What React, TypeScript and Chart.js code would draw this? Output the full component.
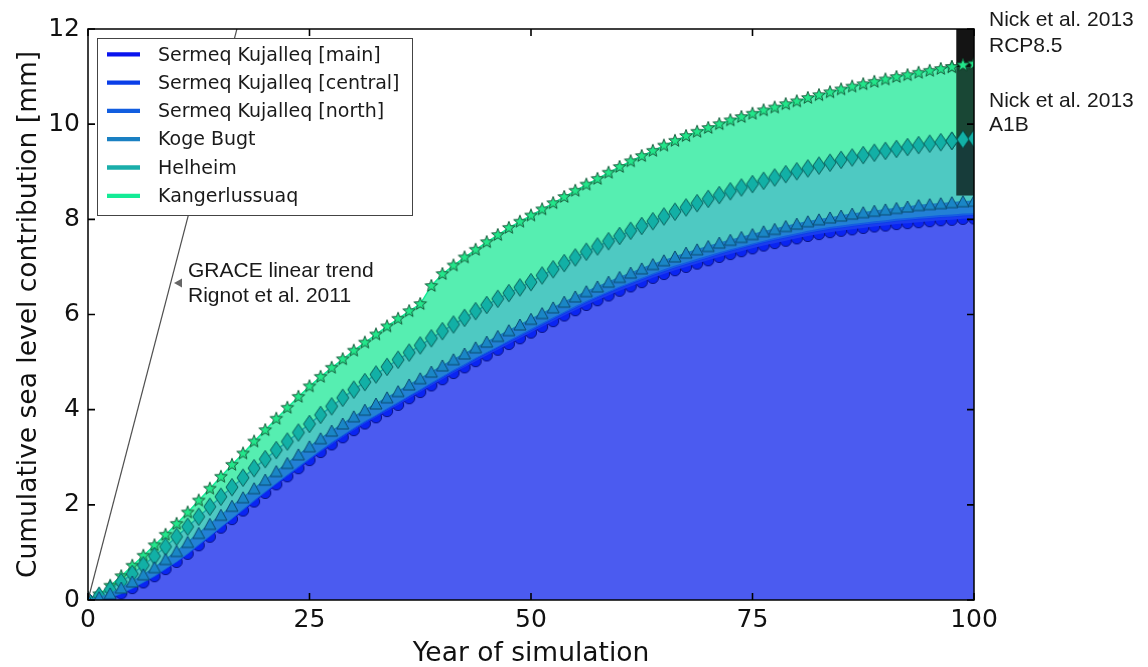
import React, { useEffect, useRef } from "react";
import { Chart, registerables } from "chart.js";

Chart.register(...registerables);

// ---------- data ----------
const YEARS = [0,1.25,2.5,3.75,5,6.25,7.5,8.75,10,11.25,12.5,13.75,15,16.25,17.5,18.75,20,21.25,22.5,23.75,25,26.25,27.5,28.75,30,31.25,32.5,33.75,35,36.25,37.5,38.75,40,41.25,42.5,43.75,45,46.25,47.5,48.75,50,51.25,52.5,53.75,55,56.25,57.5,58.75,60,61.25,62.5,63.75,65,66.25,67.5,68.75,70,71.25,72.5,73.75,75,76.25,77.5,78.75,80,81.25,82.5,83.75,85,86.25,87.5,88.75,90,91.25,92.5,93.75,95,96.25,97.5,98.75,100];

// cumulative (stacked) levels, mm
const SK_MAIN = [0,0.01,0.05,0.14,0.25,0.37,0.5,0.65,0.8,0.97, 1.15,1.33,1.52,1.7,1.88,2.07,2.25,2.43,2.6,2.77, 2.94,3.11,3.27,3.42,3.57,3.71,3.84,3.97,4.1,4.24, 4.37,4.51,4.64,4.77,4.89,5.02,5.14,5.26,5.38,5.5, 5.62,5.74,5.86,5.98,6.09,6.2,6.3,6.4,6.5,6.59, 6.68,6.77,6.85,6.93,7.0,7.07,7.14,7.21,7.27,7.33, 7.39,7.45,7.5,7.55,7.6,7.65,7.69,7.73,7.76,7.79, 7.82,7.85,7.87,7.9,7.92,7.94,7.96,7.98,7.99,8.01, 8.02];
const SK_CENTRAL = [0,0.01,0.05,0.14,0.25,0.37,0.5,0.66,0.81,0.98, 1.16,1.34,1.53,1.72,1.9,2.09,2.27,2.45,2.62,2.79, 2.97,3.14,3.3,3.45,3.6,3.74,3.87,4.01,4.14,4.28, 4.41,4.55,4.68,4.81,4.93,5.07,5.19,5.31,5.43,5.55, 5.67,5.79,5.91,6.03,6.14,6.26,6.36,6.46,6.56,6.65, 6.74,6.83,6.91,6.99,7.06,7.13,7.2,7.27,7.34,7.4, 7.46,7.52,7.57,7.62,7.67,7.72,7.76,7.8,7.83,7.86, 7.89,7.92,7.94,7.97,7.99,8.01,8.03,8.05,8.06,8.08, 8.09];
const SK_NORTH = [0,0.01,0.05,0.14,0.25,0.38,0.51,0.66,0.81,0.98, 1.17,1.35,1.54,1.72,1.91,2.1,2.28,2.46,2.64,2.81, 2.98,3.15,3.32,3.47,3.62,3.76,3.89,4.03,4.16,4.3, 4.43,4.57,4.7,4.84,4.96,5.09,5.21,5.33,5.46,5.58, 5.7,5.82,5.94,6.06,6.18,6.29,6.39,6.49,6.59,6.68, 6.77,6.86,6.95,7.03,7.1,7.17,7.24,7.31,7.37,7.43, 7.49,7.55,7.61,7.66,7.71,7.76,7.8,7.84,7.87,7.9, 7.93,7.96,7.98,8.01,8.03,8.05,8.07,8.09,8.1,8.12, 8.13];
const KOGE_BUGT = [0,0.05,0.13,0.25,0.38,0.53,0.68,0.85,1.02,1.21, 1.4,1.59,1.78,1.97,2.15,2.34,2.52,2.7,2.87,3.05, 3.22,3.39,3.55,3.7,3.85,3.99,4.12,4.25,4.38,4.52, 4.65,4.79,4.92,5.05,5.17,5.3,5.42,5.54,5.66,5.78, 5.9,6.02,6.14,6.26,6.37,6.48,6.58,6.68,6.78,6.87, 6.96,7.05,7.13,7.21,7.29,7.36,7.43,7.5,7.56,7.62, 7.68,7.74,7.79,7.85,7.9,7.95,7.99,8.03,8.07,8.11, 8.14,8.17,8.2,8.23,8.26,8.29,8.31,8.33,8.35,8.37, 8.38];
const HELHEIM = [0,0.09,0.22,0.38,0.55,0.73,0.92,1.12,1.33,1.54, 1.75,1.96,2.17,2.37,2.57,2.77,2.96,3.15,3.33,3.52, 3.7,3.89,4.07,4.25,4.42,4.58,4.74,4.9,5.05,5.2, 5.35,5.5,5.65,5.79,5.93,6.07,6.2,6.33,6.45,6.57, 6.68,6.82,6.95,7.08,7.2,7.32,7.43,7.54,7.65,7.76, 7.86,7.96,8.06,8.16,8.25,8.34,8.43,8.51,8.59,8.67, 8.74,8.81,8.88,8.95,9.01,9.07,9.13,9.19,9.25,9.3, 9.35,9.4,9.44,9.48,9.52,9.56,9.59,9.62,9.65,9.68, 9.7];
const KANGERLUSSUAQ = [0,0.12,0.3,0.5,0.72,0.93,1.15,1.37,1.6,1.84, 2.09,2.34,2.59,2.84,3.08,3.33,3.57,3.81,4.04,4.27, 4.49,4.69,4.88,5.06,5.24,5.41,5.58,5.75,5.91,6.07, 6.22,6.6,6.85,7.03,7.2,7.36,7.52,7.67,7.82,7.95, 8.08,8.21,8.34,8.47,8.6,8.73,8.85,8.98,9.1,9.22, 9.33,9.44,9.55,9.65,9.75,9.84,9.92,10.0,10.08,10.15, 10.22,10.29,10.35,10.42,10.48,10.55,10.61,10.67,10.73,10.79, 10.84,10.89,10.94,10.99,11.03,11.08,11.12,11.16,11.2,11.24, 11.27];

const SERIES_LABELS = [
  "Sermeq Kujalleq [main]",
  "Sermeq Kujalleq [central]",
  "Sermeq Kujalleq [north]",
  "Koge Bugt",
  "Helheim",
  "Kangerlussuaq",
];

const GRACE_X = [0, 20];
const GRACE_Y = [0, 14.28];

const NICK_YEARS = [98, 100];
const NICK_A1B = [8.5, 11.2];
const NICK_RCP85 = [11.2, 12.6];

const X_TICKS = [0, 25, 50, 75, 100];
const Y_TICKS = [0, 2, 4, 6, 8, 10, 12];

const X_TITLE = "Year of simulation";
const Y_TITLE = "Cumulative sea level contribution [mm]";

// ---------- styles ----------
const LINE_COLORS = ["#0a14ee", "#0a3ee8", "#125ee0", "#1a80c2", "#1aaeaa", "#14eb96"];
const FILL_COLORS = ["#4b5bf0", "#1a3cee", "#1a5ce4", "#2380d6", "#4ec9c2", "#56eeb1"];
const DRAW_ORDER = [6, 5, 4, 1, 2, 3];

function markerCanvas(kind: string): HTMLCanvasElement {
  const c = document.createElement("canvas");
  const S = 22;
  c.width = S;
  c.height = S;
  const g = c.getContext("2d") as CanvasRenderingContext2D;
  const cx = S / 2, cy = S / 2;
  g.lineWidth = 1;
  g.beginPath();
  if (kind === "circle") {
    g.arc(cx, cy, 5.6, 0, Math.PI * 2);
    g.fillStyle = "#0a24f2";
    g.strokeStyle = "#0a1488";
  } else if (kind === "triangle") {
    g.moveTo(cx, cy - 6);
    g.lineTo(cx + 6, cy + 5);
    g.lineTo(cx - 6, cy + 5);
    g.closePath();
    g.fillStyle = "#1a86c6";
    g.strokeStyle = "#0b4a6e";
  } else if (kind === "diamond") {
    g.moveTo(cx, cy - 8.7);
    g.lineTo(cx + 6, cy);
    g.lineTo(cx, cy + 8.7);
    g.lineTo(cx - 6, cy);
    g.closePath();
    g.fillStyle = "#12b0a6";
    g.strokeStyle = "#0a5e5a";
  } else {
    const R = 6.6, r = 2.8;
    for (let k = 0; k < 10; k++) {
      const ang = -Math.PI / 2 + (k * Math.PI) / 5;
      const rad = k % 2 === 0 ? R : r;
      const px = cx + rad * Math.cos(ang), py = cy + rad * Math.sin(ang);
      if (k === 0) g.moveTo(px, py); else g.lineTo(px, py);
    }
    g.closePath();
    g.fillStyle = "#22e68a";
    g.strokeStyle = "#175c3c";
  }
  g.fill();
  g.stroke();
  return c;
}

export default function App() {
  const ref = useRef<HTMLCanvasElement | null>(null);

  useEffect(() => {
    if (!ref.current) return;
    const markers: (HTMLCanvasElement | false)[] = [
      markerCanvas("circle"),
      false,
      false,
      markerCanvas("triangle"),
      markerCanvas("diamond"),
      markerCanvas("star"),
    ];
    const stack = [SK_MAIN, SK_CENTRAL, SK_NORTH, KOGE_BUGT, HELHEIM, KANGERLUSSUAQ];
    const datasets: any[] = stack.map((vals, i) => ({
      label: SERIES_LABELS[i],
      data: YEARS.map((x, j) => ({ x, y: vals[j] })),
      borderColor: LINE_COLORS[i],
      backgroundColor: FILL_COLORS[i],
      borderWidth: 1.5,
      fill: i === 0 ? "origin" : "-1",
      pointStyle: markers[i] || "circle",
      pointRadius: markers[i] ? 5 : 0,
      pointHoverRadius: 0,
      order: DRAW_ORDER[i],
      tension: 0,
    }));
    datasets.push({
      label: "GRACE linear trend",
      data: GRACE_X.map((x, j) => ({ x, y: GRACE_Y[j] })),
      borderColor: "#505050",
      borderWidth: 1.2,
      pointRadius: 0,
      fill: false,
      order: 0,
    });

    const decor = {
      id: "decor",
      afterDatasetsDraw(chart: any) {
        const { ctx, chartArea: a } = chart;
        const xs = chart.scales.x, ys = chart.scales.y;
        ctx.save();
        ctx.beginPath();
        ctx.rect(a.left, a.top, a.right - a.left, a.bottom - a.top);
        ctx.clip();
        const x0 = xs.getPixelForValue(NICK_YEARS[0]);
        const x1 = xs.getPixelForValue(NICK_YEARS[1]);
        const yA1 = ys.getPixelForValue(NICK_A1B[1]), yA0 = ys.getPixelForValue(NICK_A1B[0]);
        ctx.fillStyle = "rgba(0,0,0,0.7)";
        ctx.fillRect(x0, yA1, x1 - x0, yA0 - yA1);
        const yR1 = ys.getPixelForValue(NICK_RCP85[1]), yR0 = ys.getPixelForValue(NICK_RCP85[0]);
        ctx.fillStyle = "rgba(0,0,0,0.92)";
        ctx.fillRect(x0, yR1, x1 - x0, yR0 - yR1);
        [4, 5].forEach((di) => {
          chart.getDatasetMeta(di).data.forEach((el: any) => {
            if (el.x >= x0 - 10) el.draw(ctx, a);
          });
        });
        ctx.restore();
      },
      afterDraw(chart: any) {
        const { ctx, chartArea: a } = chart;
        const xs = chart.scales.x, ys = chart.scales.y;
        ctx.save();
        // frame
        ctx.strokeStyle = "#000";
        ctx.lineWidth = 1.5;
        ctx.strokeRect(a.left, a.top, a.right - a.left, a.bottom - a.top);
        // inward ticks on all sides
        ctx.lineWidth = 1.6;
        ctx.beginPath();
        X_TICKS.forEach((v) => {
          const px = xs.getPixelForValue(v);
          ctx.moveTo(px, a.bottom); ctx.lineTo(px, a.bottom - 7);
          ctx.moveTo(px, a.top); ctx.lineTo(px, a.top + 7);
        });
        Y_TICKS.forEach((v) => {
          const py = ys.getPixelForValue(v);
          ctx.moveTo(a.left, py); ctx.lineTo(a.left + 7, py);
          ctx.moveTo(a.right, py); ctx.lineTo(a.right - 7, py);
        });
        ctx.stroke();

        // legend
        const lx = a.left + 9, ly = a.top + 9, lw = 315, lh = 177;
        ctx.fillStyle = "#fff";
        ctx.fillRect(lx, ly, lw, lh);
        ctx.strokeStyle = "#444";
        ctx.lineWidth = 1;
        ctx.strokeRect(lx + 0.5, ly + 0.5, lw, lh);
        ctx.font = '19px "DejaVu Sans"';
        ctx.textBaseline = "middle";
        ctx.textAlign = "left";
        for (let i = 0; i < SERIES_LABELS.length; i++) {
          const ry = ly + 16.3 + i * 28.3;
          ctx.strokeStyle = LINE_COLORS[i];
          ctx.lineWidth = 4.3;
          ctx.beginPath();
          ctx.moveTo(lx + 10, ry);
          ctx.lineTo(lx + 43, ry);
          ctx.stroke();
          ctx.fillStyle = "#1a1a1a";
          ctx.fillText(SERIES_LABELS[i], lx + 61, ry + 1.3);
        }

        // annotations
        ctx.font = '21px "Liberation Sans"';
        ctx.fillStyle = "#1a1a1a";
        ctx.textBaseline = "middle";
        const nx = a.right + 15;
        ctx.fillText("Nick et al. 2013", nx, 20.5);
        ctx.fillText("RCP8.5", nx, 45.8);
        ctx.fillText("Nick et al. 2013", nx, 101.3);
        ctx.fillText("A1B", nx, 124.8);

        const gx = xs.getPixelForValue(11.29);
        ctx.fillText("GRACE linear trend", gx, ys.getPixelForValue(6.91));
        ctx.fillText("Rignot et al. 2011", gx, ys.getPixelForValue(6.39));
        const ax = xs.getPixelForValue(10.16), ay = ys.getPixelForValue(6.66);
        ctx.fillStyle = "#666";
        ctx.beginPath();
        ctx.moveTo(ax - 4, ay);
        ctx.lineTo(ax + 4, ay - 4.5);
        ctx.lineTo(ax + 4, ay + 4.5);
        ctx.closePath();
        ctx.fill();
        ctx.restore();
      },
    };

    const chart = new Chart(ref.current, {
      type: "line",
      data: { datasets },
      options: {
        animation: false,
        responsive: false,
        devicePixelRatio: 1,
        events: [],
        layout: { padding: { top: 29, right: 174, left: 0, bottom: 0 } },
        plugins: {
          legend: { display: false },
          tooltip: { enabled: false },
          filler: { drawTime: "beforeDatasetDraw" },
        },
        scales: {
          x: {
            type: "linear",
            min: 0,
            max: 100,
            afterFit: (s: any) => { s.height = 67; },
            afterBuildTicks: (s: any) => { s.ticks = X_TICKS.map((v) => ({ value: v })); },
            grid: { display: false, drawTicks: false },
            border: { display: false },
            ticks: {
              padding: 5,
              color: "#111",
              maxRotation: 0,
              autoSkip: false,
              font: { family: "DejaVu Sans", size: 25 },
            },
            title: {
              display: true,
              text: X_TITLE,
              color: "#111",
              font: { family: "DejaVu Sans", size: 26.5, lineHeight: 1 },
              padding: { top: 0, bottom: 0 },
            },
          },
          y: {
            type: "linear",
            min: 0,
            max: 12,
            afterFit: (s: any) => { s.width = 88; },
            afterBuildTicks: (s: any) => { s.ticks = Y_TICKS.map((v) => ({ value: v })); },
            grid: { display: false, drawTicks: false },
            border: { display: false },
            ticks: {
              padding: 8,
              color: "#111",
              autoSkip: false,
              font: { family: "DejaVu Sans", size: 25 },
            },
            title: {
              display: true,
              text: Y_TITLE,
              color: "#111",
              font: { family: "DejaVu Sans", size: 26.5, lineHeight: 1 },
              padding: { top: 16, bottom: 0 },
            },
          },
        },
      },
      plugins: [decor],
    } as any);

    return () => chart.destroy();
  }, []);

  return (
    <div style={{ position: "absolute", left: 0, top: 0, width: 1148, height: 667, background: "#fff" }}>
      <canvas ref={ref} width={1148} height={667} style={{ display: "block" }} />
    </div>
  );
}
